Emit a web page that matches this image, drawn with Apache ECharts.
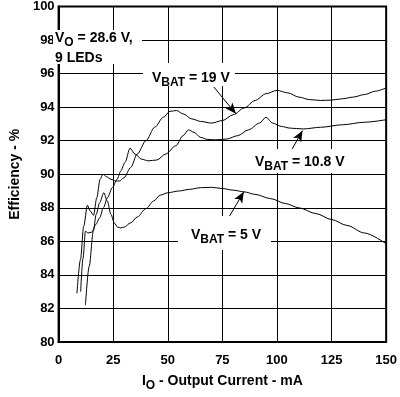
<!DOCTYPE html>
<html lang="en">
<head>
    <meta charset="UTF-8">
    <title>Efficiency vs Output Current</title>
    <script src="https://cdn.jsdelivr.net/npm/echarts@6/dist/echarts.min.js"></script>
    <style>
        html, body { margin: 0; padding: 0; background: #fff; }
        #main { width: 400px; height: 397px; }
    </style>
</head>
<body>
<div id="main"></div>
<script>
    // data (mA, %)
    var vbat19X = [8.4, 10, 11.5, 13.2, 14.5, 16, 17.5, 19, 20.3, 22, 24, 26, 28, 30, 33, 36, 40, 44, 48, 51, 54, 57, 61, 65, 70, 75, 80, 85, 90, 95, 100, 105, 110, 115, 120, 125, 130, 135, 140, 145, 150];
    var vbat19Y = [82.9, 84.9, 86.9, 88.15, 87.8, 87.55, 88.6, 89.7, 90.0, 89.85, 89.7, 89.6, 89.6, 89.8, 90.4, 91.2, 92.0, 92.8, 93.4, 93.75, 93.8, 93.6, 93.3, 93.15, 93.05, 93.2, 93.55, 93.95, 94.4, 94.8, 95.0, 94.85, 94.6, 94.45, 94.4, 94.42, 94.5, 94.6, 94.75, 94.95, 95.15];

    var vbat108X = [10.1, 11.2, 12.3, 13.5, 15.2, 17, 18.8, 20.5, 22.4, 24.6, 26.8, 28.5, 30.4, 32.7, 35, 38, 41, 45, 49, 53.7, 57, 59.5, 62, 65, 68, 72, 77, 82, 87, 92, 95, 98, 102, 106, 112, 120, 130, 140, 150];
    var vbat108Y = [83.0, 85.0, 86.6, 86.5, 86.55, 87.0, 87.4, 88.0, 88.6, 89.2, 89.7, 90.2, 90.7, 91.55, 91.2, 90.9, 90.8, 90.85, 91.2, 91.7, 92.3, 92.65, 92.5, 92.2, 92.08, 92.05, 92.1, 92.3, 92.65, 93.05, 93.4, 93.05, 92.85, 92.75, 92.7, 92.8, 92.95, 93.1, 93.25];

    var vbat5X = [12.3, 14, 15.9, 17.2, 18.8, 20.7, 22.3, 24, 25.5, 27, 28.5, 30, 33, 36, 40, 43.5, 46.5, 50, 55, 60, 65, 70, 75, 80, 85, 90, 97, 104, 110, 118, 125, 132, 140, 150];
    var vbat5Y = [82.2, 84.5, 86.6, 87.6, 88.3, 88.9, 88.4, 87.6, 87.1, 86.85, 86.8, 86.85, 87.1, 87.45, 87.95, 88.4, 88.75, 88.9, 89.0, 89.1, 89.2, 89.22, 89.15, 89.05, 88.95, 88.8, 88.55, 88.25, 88.0, 87.65, 87.3, 86.95, 86.5, 85.85];

    // arrow callouts [from, to] in data units
    var arrow19 = [[71.1, 95.2], [81.2, 93.6]];
    var arrow108 = [[105.6, 91.2], [111.7, 92.6]];
    var arrow5 = [[76.9, 87.2], [84.8, 88.95]];

    var font = 'Liberation Sans, Arial, sans-serif';

    function pairs(xs, ys) {
        var out = [];
        for (var i = 0; i < xs.length; i++) out.push([xs[i], ys[i]]);
        return out;
    }

    var rich = {
        n: { fontSize: 14, fontWeight: 'bold', fontFamily: font, color: '#000', lineHeight: 14, verticalAlign: 'top' },
        s: { fontSize: 12, fontWeight: 'bold', fontFamily: font, color: '#000', lineHeight: 18, verticalAlign: 'bottom' }
    };

    function curve(name, data, arrow) {
        return {
            name: name,
            type: 'line',
            data: data,
            showSymbol: false,
            smooth: 0.3,
            smoothMonotone: 'x',
            lineStyle: { color: '#000', width: 1 },
            silent: true,
            markLine: {
                silent: true,
                symbol: ['none', 'arrow'],
                symbolSize: [7, 11],
                label: { show: false },
                lineStyle: { color: '#000', width: 1, type: 'solid' },
                data: [[{ coord: arrow[0] }, { coord: arrow[1] }]]
            }
        };
    }

    function box(x, y, w, h) {
        return { type: 'rect', z: 100, shape: { x: x, y: y, width: w, height: h }, style: { fill: '#fff' } };
    }

    function label(x, y, txt) {
        return { type: 'text', z: 101, x: x, y: y, style: { text: txt, rich: rich, verticalAlign: 'top', align: 'left' } };
    }

    var myChart = echarts.init(document.getElementById('main'));
    var option = {
        animation: false,
        backgroundColor: '#fff',
        grid: { left: 43, right: 12, top: 6, bottom: 51, show: true, borderColor: '#000', borderWidth: 2, backgroundColor: 'transparent' },
        xAxis: {
            type: 'value', min: 0, max: 150, interval: 25,
            axisLine: { show: true, lineStyle: { color: '#000', width: 2 } },
            axisTick: { show: false },
            splitLine: { show: true, lineStyle: { color: '#000', width: 1 } },
            axisLabel: { color: '#000', fontSize: 13, fontWeight: 'bold', fontFamily: font, margin: 12 },
            name: '{n|I}{s|O}{n| - Output Current - mA}',
            nameLocation: 'middle', nameGap: 32,
            nameTextStyle: { rich: rich }
        },
        yAxis: {
            type: 'value', min: 80, max: 100, interval: 2,
            axisLine: { show: true, lineStyle: { color: '#000', width: 2 } },
            axisTick: { show: false },
            splitLine: { show: true, lineStyle: { color: '#000', width: 1 } },
            axisLabel: { color: '#000', fontSize: 13, fontWeight: 'bold', fontFamily: font, margin: 4 },
            name: 'Efficiency - %',
            nameLocation: 'middle', nameGap: 36,
            nameTextStyle: { color: '#000', fontSize: 14, fontWeight: 'bold', fontFamily: font }
        },
        series: [
            curve('VBAT = 19 V', pairs(vbat19X, vbat19Y), arrow19),
            curve('VBAT = 10.8 V', pairs(vbat108X, vbat108Y), arrow108),
            curve('VBAT = 5 V', pairs(vbat5X, vbat5Y), arrow5)
        ],
        graphic: [
            box(53, 30, 89, 34),
            label(55, 31, '{n|V}{s|O}{n| = 28.6 V,}'),
            label(55, 51, '{n|9 LEDs}'),
            box(143, 63, 92, 23),
            label(152, 71, '{n|V}{s|BAT}{n| = 19 V}'),
            box(250, 149, 100, 24),
            label(255, 155, '{n|V}{s|BAT}{n| = 10.8 V}'),
            box(178, 216, 93, 34),
            label(191, 228, '{n|V}{s|BAT}{n| = 5 V}')
        ]
    };
    myChart.setOption(option);
</script>
</body>
</html>
